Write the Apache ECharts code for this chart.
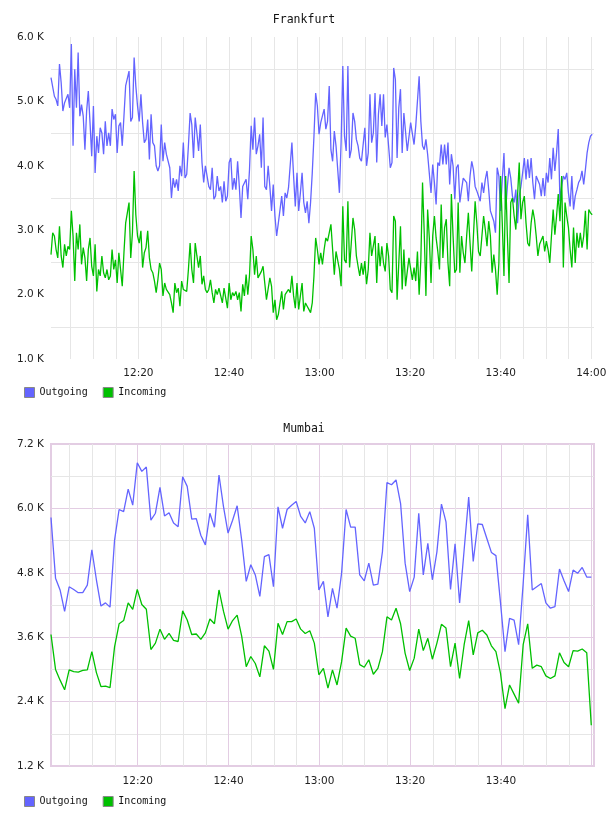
<!DOCTYPE html>
<html>
<head>
<meta charset="utf-8">
<script src="https://cdn.jsdelivr.net/npm/echarts@6/dist/echarts.min.js"></script>
<style>
  html, body { margin: 0; padding: 0; background: #fff; }
  #main { width: 608px; height: 816px; }
</style>
</head>
<body>
<div id="main"></div>
<script>
// minutes after 12:00
var fraStart = 0.7, fraEnd = 120.2;
var muStart = 0.9, muStep = 1;

var seriesNames = ['Outgoing', 'Incoming'];
var cityNames = ['Frankfurt', 'Mumbai'];

// Frankfurt, bytes/s
var fraOut = [
  5370, 5400, 5080, 5030, 4930, 5580, 5290, 4850, 4980, 4980,
  5110, 4900, 5890, 4310, 5500, 4900, 5760, 4770, 4950, 4770,
  4250, 4850, 5160, 4670, 4150, 4930, 3890, 4460, 4200, 4590,
  4510, 4180, 4690, 4310, 4510, 4310, 4880, 4720, 4800, 4200,
  4620, 4670, 4310, 4770, 5240, 5210, 5470, 4690, 4750, 5680,
  5240, 4930, 4690, 5110, 4670, 4360, 4410, 4720, 4100, 4800,
  4360, 4310, 4000, 3920, 4000, 4640, 4070, 4360, 4180, 4180,
  3970, 3500, 3810, 3660, 3790, 3610, 4000, 3840, 4360, 3810,
  3870, 4310, 4820, 4640, 4120, 4750, 4510, 4230, 4640, 4050,
  3740, 4000, 3970, 3680, 3630, 3970, 3480, 3530, 3840, 3610,
  3680, 3430, 3760, 3450, 3530, 4050, 4120, 3630, 3810, 3630,
  4070, 3680, 3190, 3680, 3710, 3790, 3480, 3940, 4620, 4250,
  4750, 4180, 4310, 4490, 3970, 4750, 3680, 3630, 4000, 3680,
  3300, 3710, 3220, 2910, 3110, 3110, 3530, 3220, 3580, 3500,
  3660, 3660, 4360, 3840, 3370, 3890, 3300, 3580, 3890, 3430,
  3270, 3450, 3110, 3430, 3890, 4460, 5130, 4930, 4490, 4670,
  4670, 4880, 4570, 4690, 5240, 4250, 4070, 4540, 4310, 4310,
  3580, 4360, 5550, 4460, 4230, 5550, 4120, 4250, 4820, 4690,
  4410, 4310, 4120, 4070, 4050, 4590, 4000, 4200, 5110, 4360,
  4510, 5130, 4050, 4800, 5110, 4620, 5110, 4440, 4640, 4670,
  3970, 4050, 5520, 5340, 4120, 4900, 5190, 4200, 4820, 4800,
  4230, 4250, 4670, 4640, 4330, 4620, 4590, 5390, 4690, 4310,
  4250, 4410, 4180, 4150, 3580, 4020, 3740, 3400, 4050, 4000,
  4330, 4020, 4330, 4020, 4360, 3710, 4180, 4000, 3480, 3970,
  4020, 3430, 3630, 3810, 3840, 3740, 3450, 3840, 4070, 3940,
  3680, 3610, 3530, 3450, 3740, 3580, 3790, 3920, 3630, 3300,
  3270, 3140, 2960, 3970, 3840, 3300, 3790, 4200, 3320, 3680,
  3970, 3810, 3530, 3430, 3630, 3110, 3530, 3680, 3890, 4120,
  3790, 4100, 3810, 4120, 3740, 3480, 3840, 3810, 3710, 3530,
  3810, 3530, 3890, 3740, 4120, 3790, 4280, 3920, 4200, 4570,
  3450, 3680, 3840, 3790, 3890, 3580, 3370, 3840, 3320, 3530,
  3630, 3740, 3790, 3920, 3710, 3940, 4200, 4360, 4460, 4490
];
var fraIn = [
  2620, 2960, 2910, 2700, 2570, 3060, 2600, 2420, 2780, 2600,
  2750, 2700, 3300, 2910, 2210, 2960, 2700, 3090, 2470, 2730,
  2570, 2210, 2700, 2880, 2440, 2290, 2780, 2050, 2390, 2290,
  2600, 2340, 2260, 2390, 2230, 2290, 2700, 2390, 2540, 2180,
  2650, 2620, 2130, 2650, 3110, 3270, 3430, 2570, 2960, 3920,
  3240, 2910, 2800, 2990, 2420, 2650, 2730, 2990, 2570, 2390,
  2340, 2210, 2030, 2230, 2490, 2390, 1980, 2180, 2080, 2050,
  2000, 1870, 1720, 2180, 2030, 2100, 1820, 2210, 2080, 2080,
  2050, 2390, 2800, 2390, 2180, 2800, 2600, 2420, 2600, 2160,
  2290, 2080, 2030, 2080, 2230, 2030, 1870, 2080, 2000, 2100,
  2080, 1870, 2100, 2080, 1790, 2180, 1920, 2030, 1980, 2050,
  1920, 2030, 1740, 2160, 1980, 2310, 2000, 2290, 2910, 2700,
  2310, 2600, 2260, 2230, 2360, 2440, 2180, 1920, 1920, 2260,
  2130, 1720, 1920, 1610, 1690, 1690, 2050, 1770, 2000, 1980,
  2080, 2030, 2290, 1980, 1790, 2180, 1770, 1980, 2180, 1740,
  1870, 1820, 1770, 1720, 1870, 2290, 2880, 2700, 2470, 2650,
  2470, 2700, 2880, 2830, 2960, 3090, 2700, 2310, 2670, 2650,
  2390, 2130, 3370, 2540, 2490, 3450, 2420, 2800, 3190, 3010,
  2600, 2440, 2290, 2490, 2310, 2520, 2160, 2390, 2960, 2600,
  2570, 2910, 2180, 2800, 2440, 2750, 2490, 2360, 2800, 2600,
  2080, 2030, 3220, 3140, 1920, 2490, 3060, 2080, 2700, 2130,
  2360, 2570, 2540, 2230, 2420, 2210, 2670, 2000, 2540, 3740,
  2960, 1980, 3320, 2880, 2180, 2910, 3220, 2880, 2670, 2390,
  3400, 2570, 3040, 3170, 2490, 2130, 3560, 2910, 2340, 2390,
  3430, 2340, 2910, 2650, 2490, 2910, 3270, 2800, 2360, 2910,
  3450, 3110, 2670, 2600, 2910, 3220, 3010, 2750, 3140, 2910,
  2340, 2620, 2390, 2000, 2490, 3840, 3110, 2290, 3840, 2910,
  2180, 3430, 3500, 3220, 3010, 3530, 4050, 3170, 3430, 3530,
  3110, 2800, 2750, 3110, 3320, 3170, 2910, 2600, 2780, 2750,
  2910, 2670, 2830, 2700, 2490, 2910, 3320, 2930, 3220, 3560,
  3140, 3840, 2420, 3430, 3220, 3040, 2700, 2420, 3040, 2490,
  2960, 2730, 2960, 2730, 2910, 3300, 2700, 3320, 3270, 3240
];

// Mumbai, one sample a minute
var muOut = [
  5830, 4700, 4480, 4080, 4540, 4490, 4430, 4430, 4570, 5230,
  4670, 4180, 4240, 4160, 5410, 5980, 5940, 6360, 6060, 6850,
  6690, 6770, 5780, 5910, 6390, 5860, 5920, 5730, 5660, 6590,
  6410, 5800, 5810, 5500, 5320, 5910, 5650, 6620, 6030, 5540,
  5780, 6050, 5410, 4640, 4950, 4760, 4360, 5100, 5140, 4540,
  6030, 5630, 5980, 6060, 6130, 5850,
  5730, 5940, 5630, 4480, 4640, 3980, 4510, 4140, 4790, 5980,
  5650, 5650, 4760, 4650, 4980, 4570, 4590, 5190, 6480, 6440,
  6530, 6090, 4980, 4450, 4720, 5910, 4760, 5350, 4670, 5190,
  6080, 5750, 4490, 5340, 4240, 5230, 6210, 5010, 5710, 5700,
  5440, 5180, 5120, 4250, 3330, 3950, 3920, 3460, 4600, 5880,
  4480, 4540, 4600, 4240, 4140, 4170, 4870, 4650, 4450, 4850,
  4790, 4900, 4720, 4720
];
var muIn = [
  3650, 3000, 2800, 2620, 2990, 2960, 2950, 2980, 2990, 3330,
  2940, 2680, 2690, 2660, 3420, 3850, 3910, 4240, 4120, 4490,
  4210, 4120, 3370, 3490, 3750, 3560, 3670, 3540, 3520, 4090,
  3920, 3650, 3660, 3560, 3680, 3940, 3850, 4480, 4080, 3750,
  3910, 4010, 3620, 3050, 3240, 3110, 2860, 3440, 3340, 3000,
  3860, 3650, 3890, 3890, 3940, 3750,
  3670, 3720, 3490, 2900, 3020, 2650, 2990, 2710, 3140, 3770,
  3620, 3580, 3090, 3040, 3180, 2910, 3020, 3330, 3980, 3920,
  4140, 3850, 3300, 2980, 3210, 3750, 3350, 3580, 3190, 3490,
  3840, 3770, 3050, 3490, 2830, 3460, 3910, 3270, 3680, 3730,
  3640, 3440, 3330, 2930, 2270, 2710, 2540, 2370, 3460, 3850,
  3020, 3080, 3050, 2880, 2830, 2880, 3310, 3130, 3050, 3350,
  3340, 3380, 3310, 1960
];

var fraStep = (fraEnd - fraStart) / (fraOut.length - 1);
function withTime(arr, start, step) {
  return arr.map(function (v, i) { return [start + i * step, v]; });
}

var gray = '#e6e6e6';
var pink = '#e3cde3';
var monoFont = 'DejaVu Sans Mono';
var tickFont = 'DejaVu Sans';

function timeLabel(v) {
  var m = Math.round(v);
  if (Math.abs(v - m) > 1e-6 || m % 20 !== 0) return '';
  var h = 12 + Math.floor(m / 60);
  var mm = m % 60;
  return h + ':' + (mm < 10 ? '0' : '') + mm;
}
function kLabel(v) {
  return (v / 1000).toFixed(1) + ' K';
}

var chart = echarts.init(document.getElementById('main'), null, { renderer: 'canvas' });

var option = {
  animation: false,
  backgroundColor: '#fff',
  color: ['#6464ff', '#00c000'],
  title: [
    { text: cityNames[0], left: 'center', top: 14, padding: 0,
      textStyle: { fontFamily: monoFont, fontSize: 11.5, fontWeight: 'normal', color: '#111' } },
    { text: cityNames[1], left: 'center', top: 423, padding: 0,
      textStyle: { fontFamily: monoFont, fontSize: 11.5, fontWeight: 'normal', color: '#111' } }
  ],
  legend: [
    { data: seriesNames, left: 24, top: 387, padding: 0, icon: 'rect', itemWidth: 10, itemHeight: 10, itemGap: 15,
      itemStyle: { borderColor: '#888', borderWidth: 1 },
      textStyle: { fontFamily: monoFont, fontSize: 10, color: '#111', padding: [0, 0, 0, 0] } },
    { data: seriesNames, left: 24, top: 796, padding: 0, icon: 'rect', itemWidth: 10, itemHeight: 10, itemGap: 15,
      itemStyle: { borderColor: '#888', borderWidth: 1 },
      textStyle: { fontFamily: monoFont, fontSize: 10, color: '#111', padding: [0, 0, 0, 0] } }
  ],
  grid: [
    { left: 51, top: 37, width: 543, height: 322, containLabel: false, outerBoundsMode: 'none' },
    { left: 51, top: 444, width: 543, height: 322, containLabel: false, outerBoundsMode: 'none',
      show: true, borderColor: pink, borderWidth: 2, backgroundColor: 'transparent' }
  ],
  xAxis: [
    { gridIndex: 0, type: 'value', position: 'bottom', min: 0.7, max: 120.6, minInterval: 5, maxInterval: 5,
      axisLine: { show: false }, axisTick: { show: false },
      axisLabel: { formatter: timeLabel, margin: 9, fontFamily: tickFont, fontSize: 10.5, color: '#222' },
      splitLine: { show: true, showMinLine: false, showMaxLine: false, lineStyle: { color: gray, width: 1 } } },
    { gridIndex: 1, type: 'value', position: 'bottom', min: 0.9, max: 120.5, minInterval: 5, maxInterval: 5,
      axisLine: { show: false }, axisTick: { show: false }, axisLabel: { show: false },
      splitLine: { show: true, showMinLine: false, showMaxLine: false, lineStyle: { color: gray, width: 1 } } },
    { gridIndex: 1, type: 'value', position: 'bottom', offset: 0, min: 0.9, max: 120.5, minInterval: 20, maxInterval: 20,
      axisLine: { show: false }, axisTick: { show: false },
      axisLabel: { formatter: function (v) { return v >= 119.5 ? '' : timeLabel(v); },
        margin: 10, fontFamily: tickFont, fontSize: 10.5, color: '#222' },
      splitLine: { show: true, showMinLine: false, showMaxLine: false, lineStyle: { color: pink, width: 1 } } }
  ],
  yAxis: [
    { gridIndex: 0, type: 'value', min: 1000, max: 6000, interval: 500,
      axisLine: { show: false }, axisTick: { show: false },
      axisLabel: { formatter: function (v) { return v % 1000 === 0 ? kLabel(v) : ''; },
        margin: 7, fontFamily: tickFont, fontSize: 10.5, color: '#222' },
      splitLine: { show: true, lineStyle: { color: ['rgba(0,0,0,0)', gray], width: 1 } } },
    { gridIndex: 1, type: 'value', min: 1200, max: 7200, interval: 600,
      axisLine: { show: false }, axisTick: { show: false },
      axisLabel: { formatter: function (v) { return v % 1200 === 0 ? kLabel(v) : ''; },
        margin: 7, fontFamily: tickFont, fontSize: 10.5, color: '#222' },
      splitLine: { show: true, lineStyle: { color: [pink, gray], width: 1 } } }
  ],
  series: [
    { name: seriesNames[0], type: 'line', xAxisIndex: 0, yAxisIndex: 0, showSymbol: false,
      lineStyle: { width: 1.3 }, data: withTime(fraOut, fraStart, fraStep) },
    { name: seriesNames[1], type: 'line', xAxisIndex: 0, yAxisIndex: 0, showSymbol: false,
      lineStyle: { width: 1.3 }, data: withTime(fraIn, fraStart, fraStep) },
    { name: seriesNames[0], type: 'line', xAxisIndex: 1, yAxisIndex: 1, showSymbol: false,
      lineStyle: { width: 1.3 }, data: withTime(muOut, muStart, muStep) },
    { name: seriesNames[1], type: 'line', xAxisIndex: 1, yAxisIndex: 1, showSymbol: false,
      lineStyle: { width: 1.3 }, data: withTime(muIn, muStart, muStep) }
  ]
};

chart.setOption(option);
</script>
</body>
</html>
